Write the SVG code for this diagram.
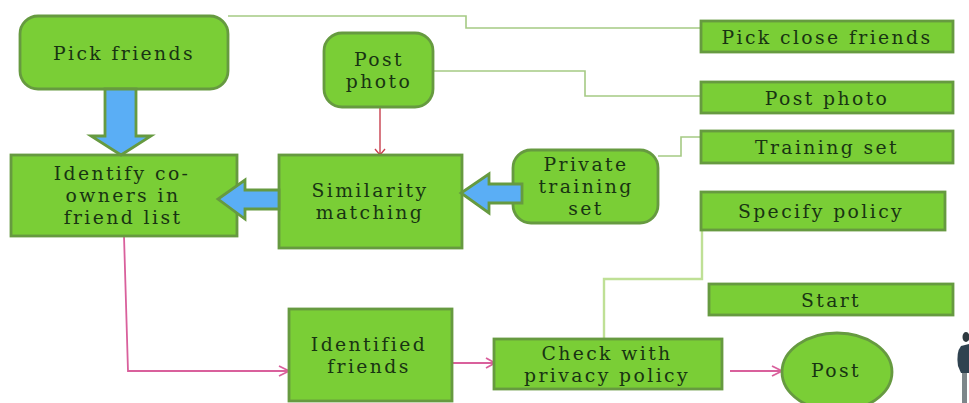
<svg xmlns="http://www.w3.org/2000/svg" width="969" height="403" viewBox="0 0 969 403">
<style>
.n{fill:#7ace36;stroke:#669a40;stroke-width:2.8}
.a{fill:#5aaef5;stroke:#669a40;stroke-width:2.8}
.g{fill:none;stroke:#a5ca84;stroke-width:1.6}
.l{fill:none;stroke:#bfe096;stroke-width:2.4}
.p{fill:none;stroke:#d9609c;stroke-width:1.8}
.r{fill:none;stroke:#c8404f;stroke-width:1.4}
text{font-family:"DejaVu Serif","Liberation Serif",serif;font-size:18.8px;letter-spacing:2.4px;fill:#183412;text-anchor:middle}
</style>
<g id="connectors">
<path class="g" d="M228 16H466V28H702"/>
<path class="g" d="M434 71H585V96H702"/>
<path class="g" d="M658 156H681V137H702"/>
<path class="l" d="M604 339V279H702V230"/>
<path class="p" d="M124 236L128 371H287M279 366L289 371L279 376"/>
<path class="p" d="M452 363H493M486 358L495 363L486 368"/>
<path class="p" d="M730 371H780M772 366L782 371L772 376"/>
<path class="r" d="M380 107V154M375 149L380 155L385 149"/>
</g>
<g id="pick-friends"><rect class="n" x="20" y="16" width="208" height="73" rx="18"/><text x="124" y="60">Pick friends</text></g>
<g id="post-photo"><rect class="n" x="324" y="33" width="109" height="74" rx="18"/><text x="379" y="66">Post</text><text x="379" y="88">photo</text></g>
<g id="identify"><rect class="n" x="11" y="155" width="226" height="81"/><text x="122" y="180">Identify co-</text><text x="123" y="202">owners in</text><text x="123" y="224">friend list</text></g>
<g id="similarity"><rect class="n" x="279" y="155" width="183" height="93"/><text x="370" y="197">Similarity</text><text x="370" y="219">matching</text></g>
<g id="private"><rect class="n" x="513" y="150" width="145" height="73" rx="18"/><text x="586" y="171">Private</text><text x="586" y="193">training</text><text x="586" y="215">set</text></g>
<g id="arrow-down"><path class="a" d="M105 89H136V136H151L121 155L91 136H105Z"/></g>
<g id="arrow-left"><path class="a" d="M279 190H245V180L218 199L245 219V209H279Z"/></g>
<g id="arrow-right"><path class="a" d="M522 184H489V174L461 193L489 213V203H522Z"/></g>
<g id="pick-close"><rect class="n" x="701" y="21" width="252" height="31"/><text x="827" y="44">Pick close friends</text></g>
<g id="post-photo-2"><rect class="n" x="701" y="82" width="252" height="31"/><text x="827" y="105">Post photo</text></g>
<g id="training-set"><rect class="n" x="701" y="131" width="252" height="32"/><text x="827" y="154">Training set</text></g>
<g id="specify"><rect class="n" x="701" y="192" width="244" height="38"/><text x="821" y="218">Specify policy</text></g>
<g id="start"><rect class="n" x="709" y="284" width="244" height="31"/><text x="831" y="307">Start</text></g>
<g id="identified"><rect class="n" x="289" y="309" width="163" height="92"/><text x="369" y="351">Identified</text><text x="369" y="373">friends</text></g>
<g id="check"><rect class="n" x="494" y="339" width="228" height="50"/><text x="607" y="360">Check with</text><text x="607" y="382">privacy policy</text></g>
<g id="post"><ellipse class="n" cx="837" cy="372" rx="55" ry="39"/><text x="836" y="377">Post</text></g>
<g id="person"><path d="M962 352H967V403H962Z" fill="#7d868a"/><ellipse cx="966" cy="337" rx="3.5" ry="5" fill="#2e3a40"/><path d="M961 346Q956 352 958 366L961 373H969V344Z" fill="#2f4250"/></g>
</svg>
